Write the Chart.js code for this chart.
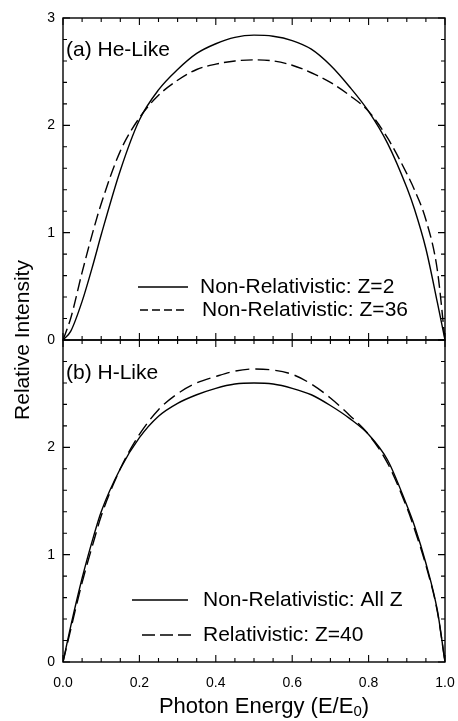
<!DOCTYPE html>
<html>
<head>
<meta charset="utf-8">
<script src="https://cdn.jsdelivr.net/npm/chart.js@4.4.1/dist/chart.umd.min.js"></script>
<style>
  body { margin: 0; background: #fff; }
  #wrap { position: relative; width: 458px; height: 721px; }
  canvas { position: absolute; left: 0; }
  #ytitle {
    position: absolute; left: -128px; top: 328px; width: 300px; height: 24px;
    line-height: 24px; text-align: center; transform: rotate(-90deg);
    font: 21px "Liberation Sans", Arial, sans-serif; color: #000;
  }
</style>
</head>
<body>
<div id="wrap">
  <canvas id="chartA" width="458" height="350" style="top:0"></canvas>
  <canvas id="chartB" width="458" height="391" style="top:330px"></canvas>
  <div id="ytitle">Relative Intensity</div>
</div>
<script>
// photon energy E/E0
const energy = [0, 0.02, 0.05, 0.08, 0.1, 0.15, 0.2, 0.25, 0.3, 0.35, 0.4, 0.45, 0.5,
  0.55, 0.6, 0.65, 0.7, 0.75, 0.8, 0.85, 0.9, 0.92, 0.95, 0.98, 1.0];

// (a) He-like
const heNonRelZ2 = [0, 0.08, 0.36, 0.72, 0.98, 1.58, 2.05, 2.33, 2.52, 2.67, 2.76, 2.82, 2.84,
  2.83, 2.79, 2.71, 2.56, 2.36, 2.13, 1.83, 1.42, 1.22, 0.85, 0.35, 0];
const heNonRelZ36 = [0, 0.2, 0.63, 1.03, 1.27, 1.76, 2.07, 2.28, 2.42, 2.52, 2.57, 2.60, 2.61,
  2.60, 2.56, 2.49, 2.40, 2.28, 2.13, 1.88, 1.55, 1.40, 1.12, 0.65, 0];

// (b) H-like
const hNonRelAllZ = [0, 0.33, 0.78, 1.17, 1.40, 1.80, 2.09, 2.29, 2.41, 2.49, 2.55, 2.59, 2.60,
  2.59, 2.55, 2.49, 2.39, 2.27, 2.12, 1.88, 1.46, 1.27, 0.92, 0.48, 0];
const hRelZ40 = [0, 0.30, 0.74, 1.12, 1.36, 1.80, 2.12, 2.35, 2.50, 2.60, 2.66, 2.71, 2.73,
  2.72, 2.68, 2.59, 2.46, 2.30, 2.12, 1.85, 1.44, 1.24, 0.90, 0.47, 0];

const xTicks = [0, 0.2, 0.4, 0.6, 0.8, 1.0];
const yTicks = [0, 1, 2, 3];

const FONT = '"Liberation Sans", Arial, sans-serif';

const pts = (ys) => energy.map((e, i) => ({x: e, y: ys[i]}));

// box, inward ticks, panel label, legend and bottom title
const decor = {
  id: 'decor',
  afterDatasetsDraw(chart, args, opts) {
    const ctx = chart.ctx;
    const a = chart.chartArea;
    const x = chart.scales.x, y = chart.scales.y;
    ctx.save();
    ctx.strokeStyle = '#000';
    ctx.lineWidth = 1.4;
    ctx.strokeRect(a.left, a.top, a.width, a.height);
    ctx.lineWidth = 1.1;
    ctx.beginPath();
    for (let i = 0; i <= 20; i++) {
      const px = x.getPixelForValue(i * 0.05);
      const len = i % 4 === 0 ? 7 : 4;
      ctx.moveTo(px, a.bottom); ctx.lineTo(px, a.bottom - len);
      ctx.moveTo(px, a.top); ctx.lineTo(px, a.top + len);
    }
    for (let i = 0; i <= 15; i++) {
      const py = y.getPixelForValue(i * 0.2);
      const len = i % 5 === 0 ? 7 : 4;
      ctx.moveTo(a.left, py); ctx.lineTo(a.left + len, py);
      ctx.moveTo(a.right, py); ctx.lineTo(a.right - len, py);
    }
    ctx.stroke();

    ctx.fillStyle = '#000';
    ctx.textBaseline = 'middle';
    ctx.font = '21px ' + FONT;
    ctx.fillText(opts.panel, a.left + 3, opts.panelY);

    opts.legend.forEach(item => {
      ctx.beginPath();
      ctx.lineWidth = 1.4;
      ctx.setLineDash(item.dash);
      ctx.moveTo(item.x0, item.y); ctx.lineTo(item.x1, item.y);
      ctx.stroke();
      ctx.setLineDash([]);
      ctx.fillText(item.text, item.tx, item.y);
    });

    if (opts.xTitle) {
      const cx = (a.left + a.right) / 2 + 10, ty = opts.xTitleY;
      const main = 'Photon Energy (E/E';
      ctx.font = '22px ' + FONT;
      const w1 = ctx.measureText(main).width;
      const w3 = ctx.measureText(')').width;
      ctx.font = '15px ' + FONT;
      const w2 = ctx.measureText('0').width;
      const sx = cx - (w1 + w2 + w3) / 2;
      ctx.font = '22px ' + FONT;
      ctx.fillText(main, sx, ty);
      ctx.fillText(')', sx + w1 + w2, ty);
      ctx.font = '15px ' + FONT;
      ctx.fillText('0', sx + w1, ty + 5);
    }
    ctx.restore();
  }
};

function makeChart(id, sets, opts) {
  return new Chart(document.getElementById(id), {
    type: 'line',
    data: {
      datasets: sets.map(s => ({
        data: pts(s.data),
        borderColor: '#000',
        borderWidth: 1.4,
        borderDash: s.dash,
        pointRadius: 0,
        pointHoverRadius: 0,
        fill: false,
        cubicInterpolationMode: 'monotone'
      }))
    },
    options: {
      responsive: false,
      animation: false,
      layout: {padding: opts.padding, autoPadding: false},
      scales: {
        x: {
          type: 'linear', min: 0, max: 1,
          display: opts.showX,
          grid: {display: false, drawTicks: false},
          border: {display: false},
          afterBuildTicks: s => { s.ticks = xTicks.map(v => ({value: v})); },
          afterFit: s => {
            s.height = opts.showX ? 59 : 0;
            s.paddingLeft = 0; s.paddingRight = 0;
          },
          ticks: {
            color: '#000', padding: 13, maxRotation: 0,
            font: {family: FONT, size: 14},
            callback: v => v.toFixed(1)
          }
        },
        y: {
          min: 0, max: 3,
          grid: {display: false, drawTicks: false},
          border: {display: false},
          afterBuildTicks: s => { s.ticks = yTicks.map(v => ({value: v})); },
          afterFit: s => {
            s.width = 63;
            s.paddingTop = 0; s.paddingBottom = 0;
          },
          ticks: {
            color: '#000', padding: 8,
            font: {family: FONT, size: 14},
            callback: v => (opts.hideTop && v === 3) ? '' : String(v)
          }
        }
      },
      plugins: {
        legend: {display: false},
        tooltip: {enabled: false},
        decor: opts.decor
      }
    },
    plugins: [decor]
  });
}

makeChart('chartA', [
  {data: heNonRelZ2, dash: []},
  {data: heNonRelZ36, dash: [12, 5]}
], {
  padding: {top: 18, right: 13, bottom: 10, left: 0},
  showX: false, hideTop: false,
  decor: {
    panel: '(a) He-Like', panelY: 50,
    legend: [
      {x0: 138, x1: 188, y: 287, dash: [], text: 'Non-Relativistic: Z=2', tx: 200},
      {x0: 140, x1: 188, y: 310, dash: [8, 4], text: 'Non-Relativistic: Z=36', tx: 202}
    ]
  }
});

makeChart('chartB', [
  {data: hNonRelAllZ, dash: []},
  {data: hRelZ40, dash: [14, 6]}
], {
  padding: {top: 10, right: 13, bottom: 0, left: 0},
  showX: true, hideTop: true,
  decor: {
    panel: '(b) H-Like', panelY: 43,
    legend: [
      {x0: 132, x1: 188, y: 270, dash: [], text: 'Non-Relativistic: All Z', tx: 203},
      {x0: 142, x1: 192, y: 305, dash: [13, 5], text: 'Relativistic: Z=40', tx: 203}
    ],
    xTitle: true, xTitleY: 377
  }
});
</script>
</body>
</html>
